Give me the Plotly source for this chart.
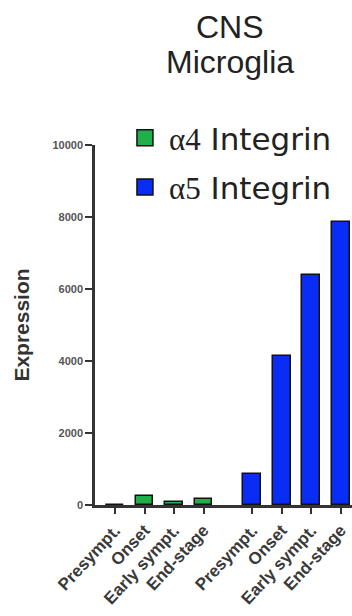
import plotly.graph_objects as go

stages = ["Presympt.", "Onset", "Early sympt.", "End-stage"]
a4_values = [0, 250, 80, 170]
a5_values = [860, 4150, 6400, 7850]
series_names = ["α4 Integrin", "α5 Integrin"]
y_ticks = [0, 2000, 4000, 6000, 8000, 10000]
title_lines = ["CNS", "Microglia"]

GROUP_OFFSET = 4.65
x_a4 = [i for i in range(len(stages))]
x_a5 = [i + GROUP_OFFSET for i in range(len(stages))]

green = "#1fb04a"
blue = "#0a2df5"

fig = go.Figure()
fig.add_trace(go.Bar(x=x_a4, y=a4_values, width=0.6, marker=dict(color=green, line=dict(color="#111", width=1.5)), showlegend=False))
fig.add_trace(go.Bar(x=x_a5, y=a5_values, width=0.6, marker=dict(color=blue, line=dict(color="#111", width=1.5)), showlegend=False))

def leg(name):
    a, rest = name.split(" ", 1)
    return f"<span style='font-family:Liberation Serif'>{a}</span> {rest}"

for i, (name, col) in enumerate(zip(series_names, [green, blue])):
    fig.add_trace(go.Scatter(x=[None], y=[None], mode="markers", name=leg(name), legendgroup=f"g{i}",
                             marker=dict(symbol="square", size=20, color=col, line=dict(color="#111", width=1.5))))

for line, ypos in zip(title_lines, [1.328, 1.231]):
    fig.add_annotation(text=line, xref="paper", yref="paper", x=0.525, y=ypos, xanchor="center", yanchor="middle",
                       showarrow=False, font=dict(family="Liberation Sans", size=32, color="#222"))

fig.update_layout(
    width=352, height=616,
    margin=dict(l=95, r=0, t=145, b=111),
    plot_bgcolor="white", paper_bgcolor="white",
    legend=dict(x=0.101, y=1.094, xanchor="left", yanchor="top", bgcolor="rgba(0,0,0,0)",
                font=dict(family="DejaVu Sans", size=31, color="#222"), itemwidth=38, tracegroupgap=6),
    bargap=0,
)
fig.update_xaxes(range=[-0.68, 8.03], tickvals=x_a4 + x_a5, ticktext=[f"<b>{s}</b>" for s in stages + stages], tickangle=-47,
                 showline=True, linecolor="#333", linewidth=2.5, ticks="outside", ticklen=6, tickwidth=2,
                 tickcolor="#333", tickfont=dict(family="Liberation Sans", size=17, color="#3a3a3a"),
                 showgrid=False, zeroline=False)
fig.update_yaxes(range=[0, 10000], tickvals=y_ticks, ticktext=[f"<b>{v}</b>" for v in y_ticks], showline=True, linecolor="#333", linewidth=2.5,
                 ticks="outside", ticklen=7, tickwidth=2, tickcolor="#333",
                 tickfont=dict(family="Liberation Sans", size=11, color="#555"),
                 title=dict(text="<b>Expression</b>", font=dict(family="Liberation Sans", size=21, color="#333"), standoff=18),
                 showgrid=False, zeroline=False)
fig.write_html("out.html")
